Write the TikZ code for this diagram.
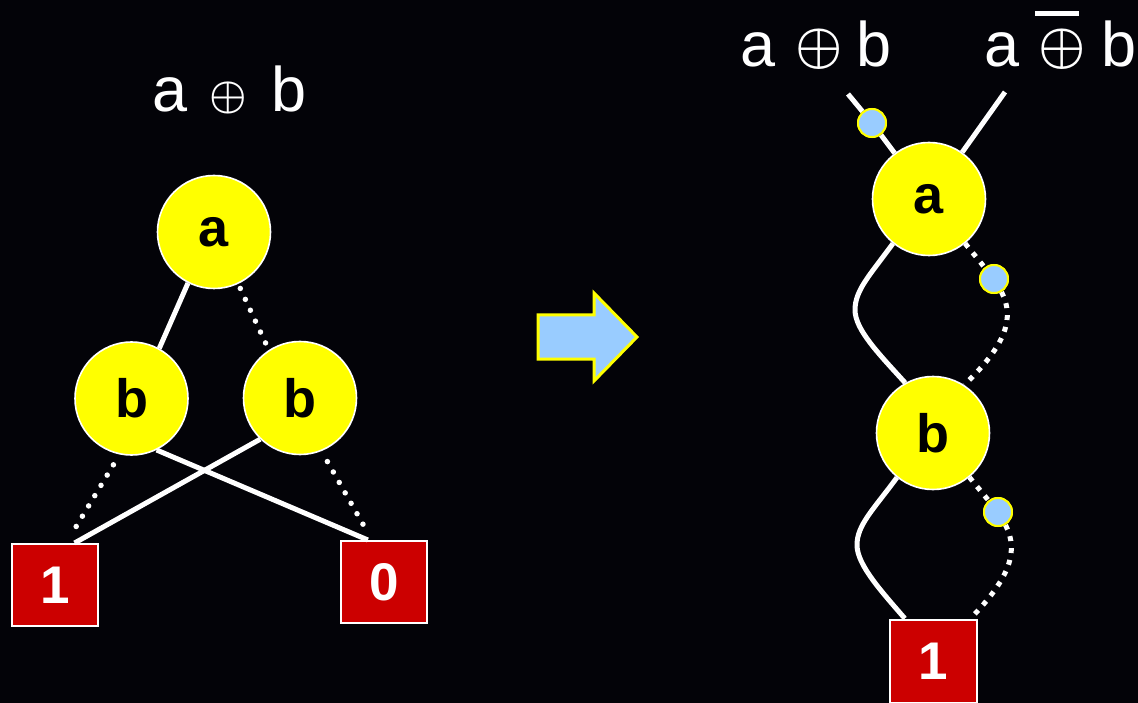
\documentclass[tikz,border=0pt]{standalone}
\usepackage{fontspec}
\usepackage{graphicx}
\setmainfont{Liberation Sans}
\definecolor{bddyellow}{RGB}{255,255,0}
\definecolor{termred}{RGB}{204,0,0}
\definecolor{dotblue}{RGB}{153,204,255}
\definecolor{bgdark}{RGB}{3,3,8}
% a circled plus scaled by #1 and lifted by #2 so that it sits on the baseline
\newcommand\xorsym[2]{\raisebox{#2}{\scalebox{#1}{\normalsize\boldmath$\oplus$}}}
\begin{document}
\begin{tikzpicture}[x=1pt,y=-1pt,
  bdd/.style={circle, draw=white, line width=1.6pt, fill=bddyellow, minimum size=113pt,
    inner sep=0pt, font=\fontsize{54}{54}\selectfont\bfseries, text=black},
  term/.style={rectangle, draw=white, line width=2pt, fill=termred, minimum width=86pt,
    minimum height=82pt, inner sep=0pt, font=\fontsize{53}{53}\selectfont\bfseries, text=white},
  cdot/.style={circle, draw=bddyellow, line width=2pt, fill=dotblue, minimum size=28pt, inner sep=0pt},
  hi/.style={draw=white, line width=5pt},
  lo/.style={draw=white, line width=5.5pt, line cap=round, dash pattern=on 0pt off 12pt},
  lodash/.style={draw=white, line width=5pt, dash pattern=on 5pt off 7pt},
  lbl/.style={text=white, font=\fontsize{63}{63}\selectfont, inner sep=0pt, anchor=base west},
]
% canvas
\fill[bgdark] (0,0) rectangle (1138,703);
\useasboundingbox (0,0) rectangle (1138,703);

% ---------- left: BDD of a xor b ----------
\node[lbl] (ltitle) at (152.7,112)
  {a\hspace{40.3pt}\makebox[0pt]{\xorsym{4.2}{3.5pt}}\hspace{43pt}b};

\node[bdd] (la) at (214,232) {a};
\node[bdd] (lb) at (131.5,398.5) {b};
\node[bdd] (lc) at (300,398) {b};
\node[term] (one) at (55,585) {1};
\node[term] (zero) at (384,582) {0};

\draw[hi] (la.243) -- (lb.61);
\draw[lo, shorten <=5pt, shorten >=4pt] (la.295) -- (lc.123);
\draw[lo, shorten <=12pt, shorten >=14pt] (lb.258) -- (one.75);
\draw[hi] (lb.296) -- (zero.111);
\draw[hi] (lc.226) -- (one.65);
\draw[lo, shorten <=12pt, shorten >=12pt] (lc.292) -- (zero.106);

% ---------- transformation arrow ----------
\draw[fill=dotblue, draw=bddyellow, line width=3pt, line join=miter]
  (538,315) -- (594,315) -- (594,293) -- (637,337) -- (594,381) -- (594,359) -- (538,359) -- cycle;

% ---------- right: BDD with complemented edges ----------
\node[lbl] (rtitle) at (740.7,67)
  {a\hspace{43.3pt}\makebox[0pt]{\xorsym{5.3}{4.4pt}}\hspace{37pt}b};
\node[lbl] (ntitle) at (984.7,67)
  {a\hspace{42.3pt}\makebox[0pt]{\xorsym{5.3}{4.4pt}}%
   \makebox[0pt]{\hspace{-10pt}\raisebox{51pt}{\rule{44pt}{5pt}}}\hspace{39pt}b};

\coordinate (t1) at (848,94);
\coordinate (t2) at (1005,92);

\node[bdd] (ra) at (929,199) {a};
\node[bdd] (rb) at (933,433) {b};
\node[term, minimum width=87pt, minimum height=83pt] (rone) at (933.5,661) {1};

\node[cdot] (d1) at (872,123) {};
\node[cdot] (d2) at (994,279) {};
\node[cdot] (d3) at (998,512) {};

\draw[hi] (t1) -- (d1) (d1) -- (ra);
\draw[hi] (t2) -- (ra);

\draw[hi] (ra.231) .. controls (870,275) and (855,290) .. (855,310)
                   .. controls (855,330) and (880,355) .. (rb.119);
\draw[lodash] (ra) -- (d2);
\draw[lodash] (d2.300) .. controls (1015,318) and (1006,345) .. (rb.57);

\draw[hi] (rb.231) .. controls (873,510) and (857,525) .. (857,545)
                   .. controls (857,565) and (882,592) .. (rone.124);
\draw[lodash] (rb) -- (d3);
\draw[lodash] (d3.300) .. controls (1019,551) and (1010,578) .. (rone.49);

% redraw the marker dots above their edges
\node[cdot] at (d1) {};
\node[cdot] at (d2) {};
\node[cdot] at (d3) {};
\end{tikzpicture}
\end{document}
